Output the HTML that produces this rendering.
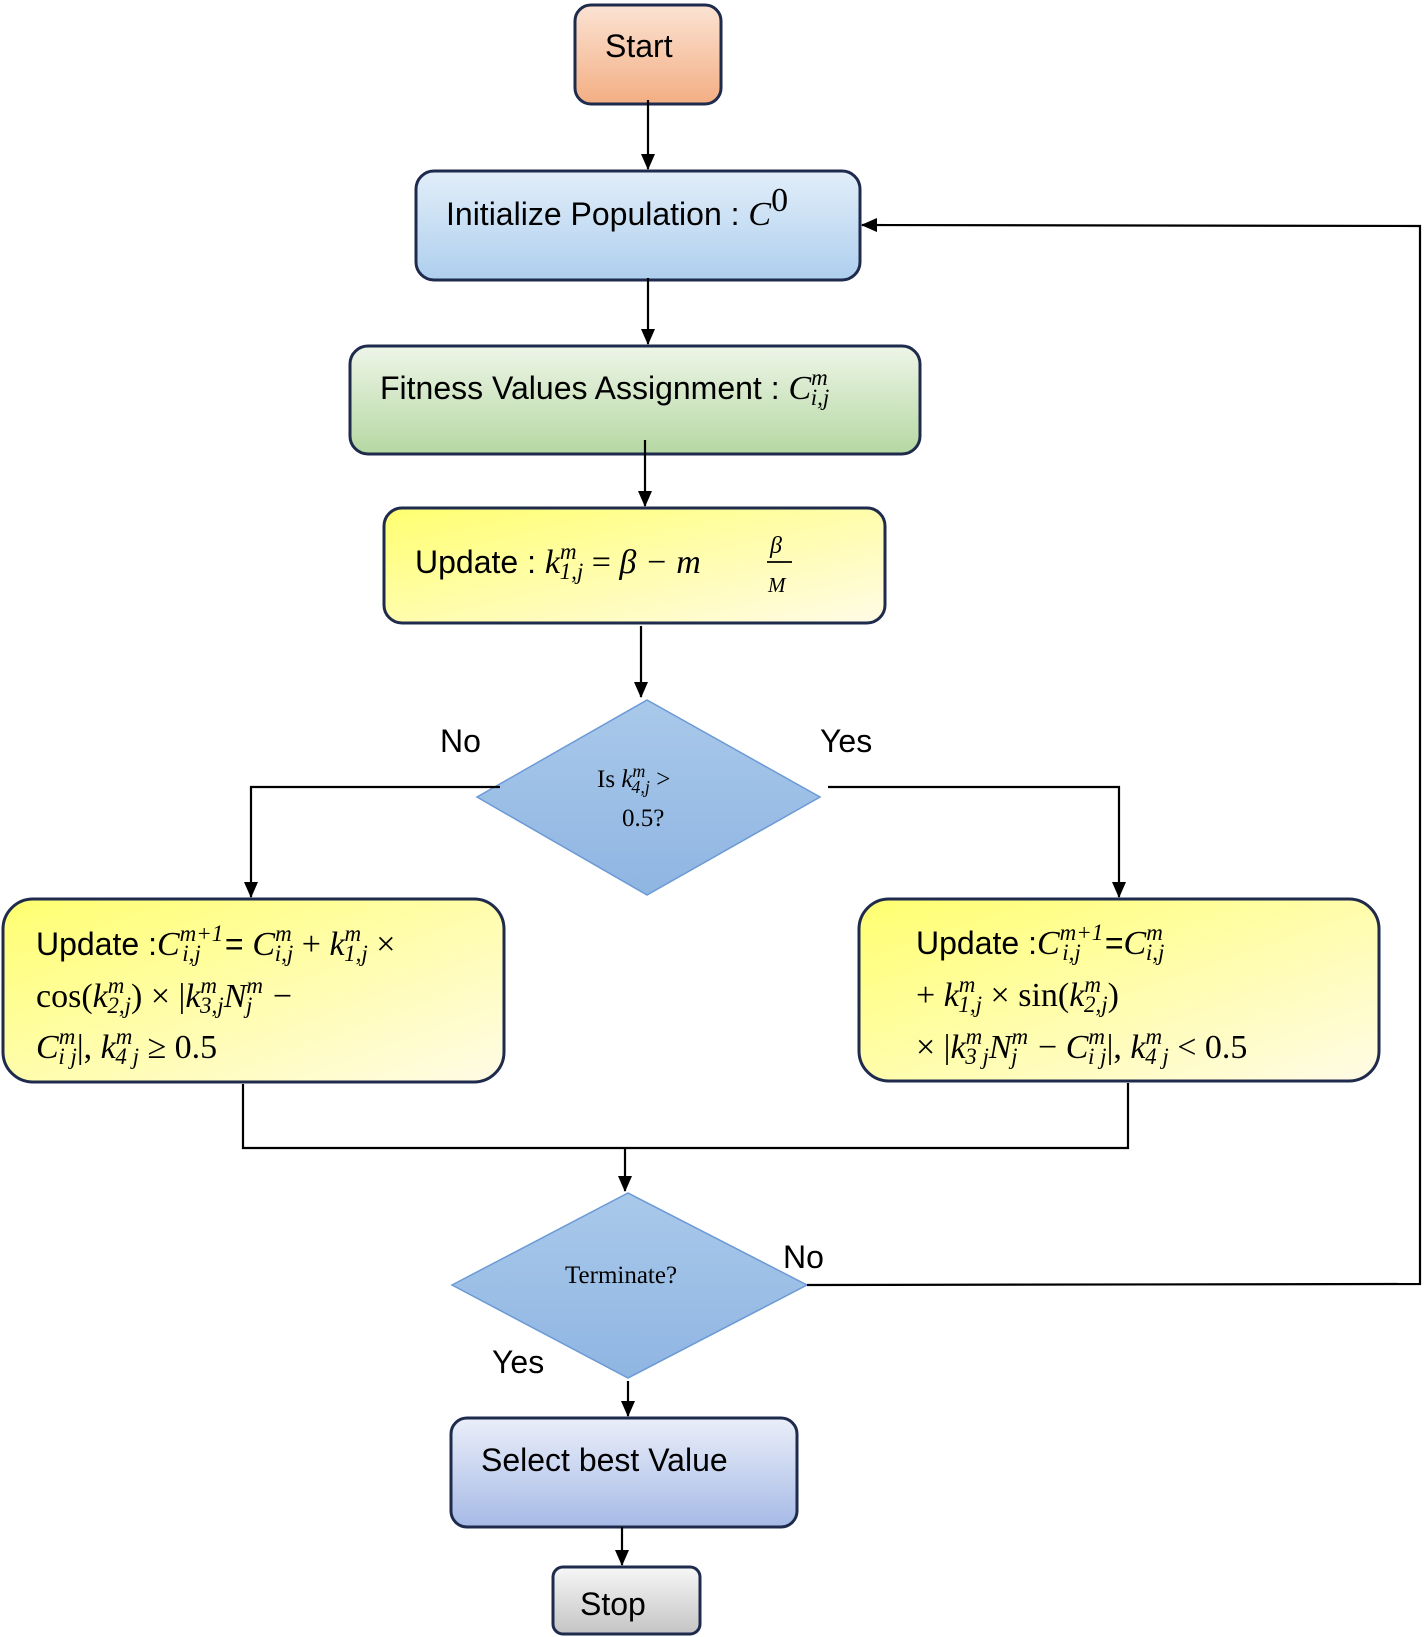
<!DOCTYPE html>
<html><head><meta charset="utf-8"><style>
html,body{margin:0;padding:0;background:#fff;}
svg{display:block;}
.t{font-family:"Liberation Sans",sans-serif;font-size:32px;fill:#000;}
.m{font-family:"Liberation Serif",serif;font-style:italic;font-size:34px;}
.r{font-family:"Liberation Serif",serif;font-style:normal;font-size:34px;}
.s{font-family:"Liberation Serif",serif;font-style:italic;font-size:23px;}
</style></head><body>
<svg width="1425" height="1637" viewBox="0 0 1425 1637" xmlns="http://www.w3.org/2000/svg">
<defs>
<linearGradient id="gO" x1="0" y1="0" x2="0" y2="1"><stop offset="0" stop-color="#fbe3d3"/><stop offset="1" stop-color="#f3ae83"/></linearGradient>
<linearGradient id="gB" x1="0" y1="0" x2="0" y2="1"><stop offset="0" stop-color="#e2eef9"/><stop offset="1" stop-color="#aecfee"/></linearGradient>
<linearGradient id="gG" x1="0" y1="0" x2="0" y2="1"><stop offset="0" stop-color="#eef5e8"/><stop offset="1" stop-color="#b5d8a2"/></linearGradient>
<linearGradient id="gY" x1="0" y1="0" x2="1" y2="1"><stop offset="0" stop-color="#ffff70"/><stop offset="1" stop-color="#fffbe6"/></linearGradient>
<linearGradient id="gD" x1="0" y1="0" x2="0" y2="1"><stop offset="0" stop-color="#a9c9ea"/><stop offset="1" stop-color="#8fb5e2"/></linearGradient>
<linearGradient id="gS" x1="0" y1="0" x2="0" y2="1"><stop offset="0" stop-color="#eaeef9"/><stop offset="1" stop-color="#a6bae6"/></linearGradient>
<linearGradient id="gW" x1="0" y1="0" x2="0" y2="1"><stop offset="0" stop-color="#f7f7f7"/><stop offset="1" stop-color="#c4c4c4"/></linearGradient>
<marker id="a" markerWidth="16" markerHeight="16" refX="15" refY="7" orient="auto" markerUnits="userSpaceOnUse"><path d="M0,0 L16,7 L0,14 z" fill="#000"/></marker>
</defs>
<g stroke="#1f2b4d" stroke-width="3">
<rect x="575" y="5" width="146" height="99" rx="16" fill="url(#gO)"/>
<rect x="416" y="171" width="444" height="109" rx="18" fill="url(#gB)"/>
<rect x="350" y="346" width="570" height="108" rx="18" fill="url(#gG)"/>
<rect x="384" y="508" width="501" height="115" rx="18" fill="url(#gY)"/>
<rect x="3" y="899" width="501" height="183" rx="30" fill="url(#gY)"/>
<rect x="859" y="899" width="520" height="182" rx="30" fill="url(#gY)"/>
<rect x="451" y="1418" width="346" height="109" rx="16" fill="url(#gS)"/>
<rect x="553" y="1567" width="147" height="67" rx="10" fill="url(#gW)"/>
</g>
<polygon points="477,797 647,700 820,797 647,895" fill="url(#gD)" stroke="#6b9ad6" stroke-width="1.5"/>
<polygon points="452,1285 628,1193 807,1285 628,1378" fill="url(#gD)" stroke="#6b9ad6" stroke-width="1.5"/>
<g stroke="#000" stroke-width="2.2" fill="none">
<path d="M648,100 V169" marker-end="url(#a)"/>
<path d="M648,278 V344" marker-end="url(#a)"/>
<path d="M645,440 V506" marker-end="url(#a)"/>
<path d="M641,626 V697" marker-end="url(#a)"/>
<path d="M500,787 H251 V897" marker-end="url(#a)"/>
<path d="M828,787 H1119 V897" marker-end="url(#a)"/>
<path d="M243,1084 V1148 H1128 V1083"/>
<path d="M625,1148 V1191" marker-end="url(#a)"/>
<path d="M807,1285 L1420,1284 V226 L862,225" marker-end="url(#a)"/>
<path d="M628,1381 V1416" marker-end="url(#a)"/>
<path d="M622,1527 V1565" marker-end="url(#a)"/>
</g>
<text class="t" x="605" y="57">Start</text>
<text class="t" x="446" y="225">Initialize Population : <tspan class="m">C</tspan><tspan class="r" font-size="23" dy="-14">0</tspan></text>
<text class="t" x="380" y="399">Fitness Values Assignment : <tspan class="m">C</tspan><tspan class="s" dy="-14">m</tspan><tspan class="s" dx="-17" dy="20">i,j</tspan></text>
<text class="t" x="415" y="573">Update : <tspan class="m">k</tspan><tspan class="s" dy="-14">m</tspan><tspan class="s" dx="-17" dy="20">1,j</tspan><tspan class="r" dy="-6">  =  </tspan><tspan class="m">β  −  m</tspan></text>
<text x="770" y="553" font-size="24" font-family="Liberation Serif" font-style="italic">β</text>
<line x1="767" y1="562" x2="792" y2="562" stroke="#000" stroke-width="1.8"/>
<text x="768" y="592" font-size="21" font-family="Liberation Serif" font-style="italic">M</text>
<text x="597" y="787" font-family="Liberation Serif" font-size="25">Is <tspan font-style="italic">k</tspan><tspan font-style="italic" font-size="18" dy="-10">m</tspan><tspan font-style="italic" font-size="18" dx="-14" dy="16">4,j</tspan><tspan dy="-6"> &gt;</tspan></text>
<text x="622" y="826" font-family="Liberation Serif" font-size="25">0.5?</text>
<text x="565" y="1283" font-family="Liberation Serif" font-size="25">Terminate?</text>
<text class="t" x="440" y="752">No</text>
<text class="t" x="820" y="752">Yes</text>
<text class="t" x="783" y="1268">No</text>
<text class="t" x="492" y="1373">Yes</text>
<text class="t" x="481" y="1471">Select best Value</text>
<text class="t" x="580" y="1615">Stop</text>
<text class="t" x="36" y="955">Update :<tspan class="m">C</tspan><tspan class="s" dy="-14">m+1</tspan><tspan class="s" dx="-41" dy="20">i,j</tspan><tspan dx="24" dy="-6">= </tspan><tspan class="m">C</tspan><tspan class="s" dy="-14">m</tspan><tspan class="s" dx="-17" dy="20">i,j</tspan><tspan class="r" dy="-6">  +   </tspan><tspan class="m">k</tspan><tspan class="s" dy="-14">m</tspan><tspan class="s" dx="-17" dy="20">1,j</tspan><tspan class="r" dy="-6">   ×</tspan></text>
<text class="t" x="36" y="1007"><tspan class="r">cos(</tspan><tspan class="m">k</tspan><tspan class="s" dy="-14">m</tspan><tspan class="s" dx="-17" dy="20">2,j</tspan><tspan class="r" dy="-6">) × |</tspan><tspan class="m">k</tspan><tspan class="s" dy="-14">m</tspan><tspan class="s" dx="-17" dy="20">3,j</tspan><tspan class="m" dy="-6">N</tspan><tspan class="s" dy="-14">m</tspan><tspan class="s" dx="-17" dy="20">j</tspan><tspan class="r" dx="12" dy="-6"> −</tspan></text>
<text class="t" x="36" y="1058"><tspan class="m">C</tspan><tspan class="s" dy="-14">m</tspan><tspan class="s" dx="-17" dy="20">i j</tspan><tspan class="r" dy="-6">|, </tspan><tspan class="m">k</tspan><tspan class="s" dy="-14">m</tspan><tspan class="s" dx="-17" dy="20">4 j</tspan><tspan class="r" dy="-6"> ≥ 0.5</tspan></text>
<text class="t" x="916" y="954">Update :<tspan class="m">C</tspan><tspan class="s" dy="-14">m+1</tspan><tspan class="s" dx="-41" dy="20">i,j</tspan><tspan dx="24" dy="-6">=</tspan><tspan class="m">C</tspan><tspan class="s" dy="-14">m</tspan><tspan class="s" dx="-17" dy="20">i,j</tspan></text>
<text class="t" x="916" y="1006"><tspan class="r">+  </tspan><tspan class="m">k</tspan><tspan class="s" dy="-14">m</tspan><tspan class="s" dx="-17" dy="20">1,j</tspan><tspan class="r" dy="-6">   × sin(</tspan><tspan class="m">k</tspan><tspan class="s" dy="-14">m</tspan><tspan class="s" dx="-17" dy="20">2,j</tspan><tspan class="r" dy="-6">)</tspan></text>
<text class="t" x="916" y="1058"><tspan class="r">× |</tspan><tspan class="m">k</tspan><tspan class="s" dy="-14">m</tspan><tspan class="s" dx="-17" dy="20">3 j</tspan><tspan class="m" dy="-6">N</tspan><tspan class="s" dy="-14">m</tspan><tspan class="s" dx="-17" dy="20">j</tspan><tspan class="r" dx="12" dy="-6"> − </tspan><tspan class="m">C</tspan><tspan class="s" dy="-14">m</tspan><tspan class="s" dx="-17" dy="20">i j</tspan><tspan class="r" dy="-6">|, </tspan><tspan class="m">k</tspan><tspan class="s" dy="-14">m</tspan><tspan class="s" dx="-17" dy="20">4 j</tspan><tspan class="r" dy="-6"> &lt; 0.5</tspan></text>
</svg>
</body></html>
